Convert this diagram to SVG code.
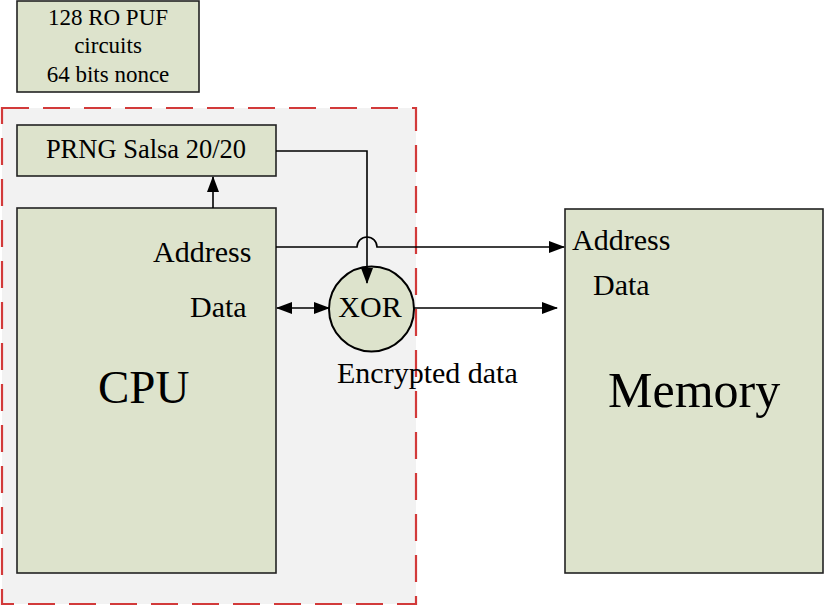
<svg xmlns="http://www.w3.org/2000/svg" width="825" height="606" viewBox="0 0 825 606">
<defs>
<style>
.box{fill:#dde3cc;stroke:#222;stroke-width:1.6}
.t{font-family:"Liberation Serif","Times New Roman",serif;fill:#000}
.ln{fill:none;stroke:#000;stroke-width:1.6}
</style>
<marker id="ah" markerWidth="16" markerHeight="12" refX="15" refY="6" orient="auto-start-reverse" markerUnits="userSpaceOnUse">
<path d="M0,0 L16,6 L0,12 Z" fill="#000"/>
</marker>
</defs>
<rect width="825" height="606" fill="#fff"/>
<rect id="boundary" x="2" y="108" width="414" height="496" fill="#f2f2f2" stroke="#d23a3a" stroke-width="2.2" stroke-dasharray="27,14"/>
<g id="puf">
<rect class="box" x="17" y="1" width="182" height="91"/>
<text class="t" font-size="23" text-anchor="middle" x="108" y="25">128 RO PUF</text>
<text class="t" font-size="23" text-anchor="middle" x="108" y="53">circuits</text>
<text class="t" font-size="23" text-anchor="middle" x="108" y="82">64 bits nonce</text>
</g>
<g id="prng">
<rect class="box" x="17" y="125" width="259" height="51"/>
<text class="t" font-size="26.5" text-anchor="middle" x="146" y="158">PRNG Salsa 20/20</text>
</g>
<g id="cpu">
<rect class="box" x="17" y="208" width="259" height="365"/>
<text class="t" font-size="30" x="153" y="262">Address</text>
<text class="t" font-size="30" x="190" y="317">Data</text>
<text class="t" font-size="47" x="98" y="403">CPU</text>
</g>
<g id="memory">
<rect class="box" x="565" y="209" width="258" height="364"/>
<text class="t" font-size="30" x="572" y="250">Address</text>
<text class="t" font-size="30" x="593" y="295">Data</text>
<text class="t" font-size="50" x="608" y="407">Memory</text>
</g>
<g id="xor">
<circle cx="371.5" cy="309" r="42.5" fill="#dde3cc" stroke="#000" stroke-width="2"/>
<text class="t" font-size="30" text-anchor="middle" x="370" y="317">XOR</text>
</g>
<text id="enc-label" class="t" font-size="30" x="337" y="383">Encrypted data</text>
<g id="connectors">
<path class="ln" d="M213,208 L213,177" marker-end="url(#ah)"/>
<path class="ln" d="M276,151 L367,151 L367,283" marker-end="url(#ah)"/>
<path class="ln" d="M276,247 L357,247 A10,10 0 0 1 377,247 L564,247" marker-end="url(#ah)"/>
<path class="ln" d="M277,308 L329,308" marker-start="url(#ah)" marker-end="url(#ah)"/>
<path class="ln" d="M414,308 L557,308" marker-end="url(#ah)"/>
</g>
</svg>
